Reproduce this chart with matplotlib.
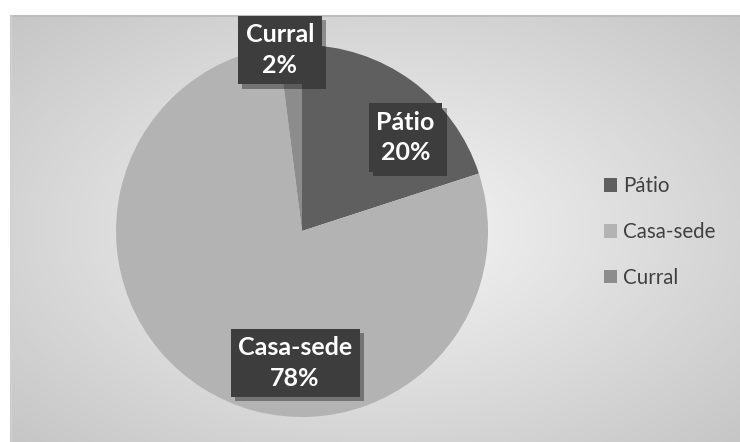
import numpy as np
import matplotlib
matplotlib.use("Agg")
import matplotlib.pyplot as plt
from matplotlib import patheffects as pe
from matplotlib.patches import Patch

categories = ["Pátio", "Casa-sede", "Curral"]
values = [20, 78, 2]
colors = ["#5f5f5f", "#b3b3b3", "#8c8c8c"]
# label placement (radius fraction, angle deg) - Excel best-fit style
label_pos = [(0.75, 42), (0.71, -93), (0.98, 97)]

W, H = 740, 442
fig = plt.figure(figsize=(W / 100, H / 100), dpi=100)
fig.patch.set_facecolor("white")

# background chart area with radial gradient
bg = fig.add_axes([10 / W, 0, (W - 10) / W, (H - 15) / H])
bg.set_axis_off()
yy, xx = np.mgrid[0:200, 0:300]
cx, cy = 150, 100
d = np.sqrt(((xx - cx) / 150.0) ** 2 + ((yy - cy) / 100.0) ** 2) / np.sqrt(2)
g = 0.965 - 0.19 * d
img = np.dstack([g, g, g])
bg.imshow(img, aspect="auto", extent=[0, 1, 0, 1], interpolation="bilinear")
bg.set_xlim(0, 1)
bg.set_ylim(0, 1)
bg.plot([0, 1], [0.997, 0.997], color="#bdbdbd", lw=1.5)
bg.plot([0.001, 0.001], [0, 1], color="#d0d0d0", lw=1.0)

# pie axes
pcx, pcy, R = 302, 231, 186
ax = fig.add_axes([(pcx - R) / W, (H - pcy - R) / H, 2 * R / W, 2 * R / H])
ax.set_axis_off()
wedges, _ = ax.pie(values, colors=colors, startangle=90, counterclock=False,
                   radius=1.0, wedgeprops=dict(linewidth=0))
ax.set_xlim(-1, 1)
ax.set_ylim(-1, 1)
ax.set_aspect("equal")

for cat, v, (r, ang) in zip(categories, values, label_pos):
    x = r * np.cos(np.radians(ang))
    y = r * np.sin(np.radians(ang))
    t = ax.text(x, y, f"{cat}\n{v}%", ha="center", va="center",
                fontsize=18, fontweight="bold", color="white",
                family=["Lato", "DejaVu Sans"], linespacing=1.4,
                bbox=dict(boxstyle="square,pad=0.3", facecolor="#3d3d3d",
                          edgecolor="none"))
    t.get_bbox_patch().set_path_effects(
        [pe.SimplePatchShadow(offset=(3, -3), shadow_rgbFace="#000000", alpha=0.35),
         pe.Normal()])

# legend
handles = [Patch(facecolor=c, edgecolor="none") for c in colors]
leg = fig.legend(handles, categories, loc="center left",
                 bbox_to_anchor=(585 / W, (H - 232) / H), frameon=False,
                 prop={"family": ["Lato", "DejaVu Sans"], "size": 14.8},
                 labelcolor="#404040", handlelength=0.65, handleheight=0.65,
                 handletextpad=0.3, labelspacing=1.25)

fig.savefig("out.png", dpi=100)
